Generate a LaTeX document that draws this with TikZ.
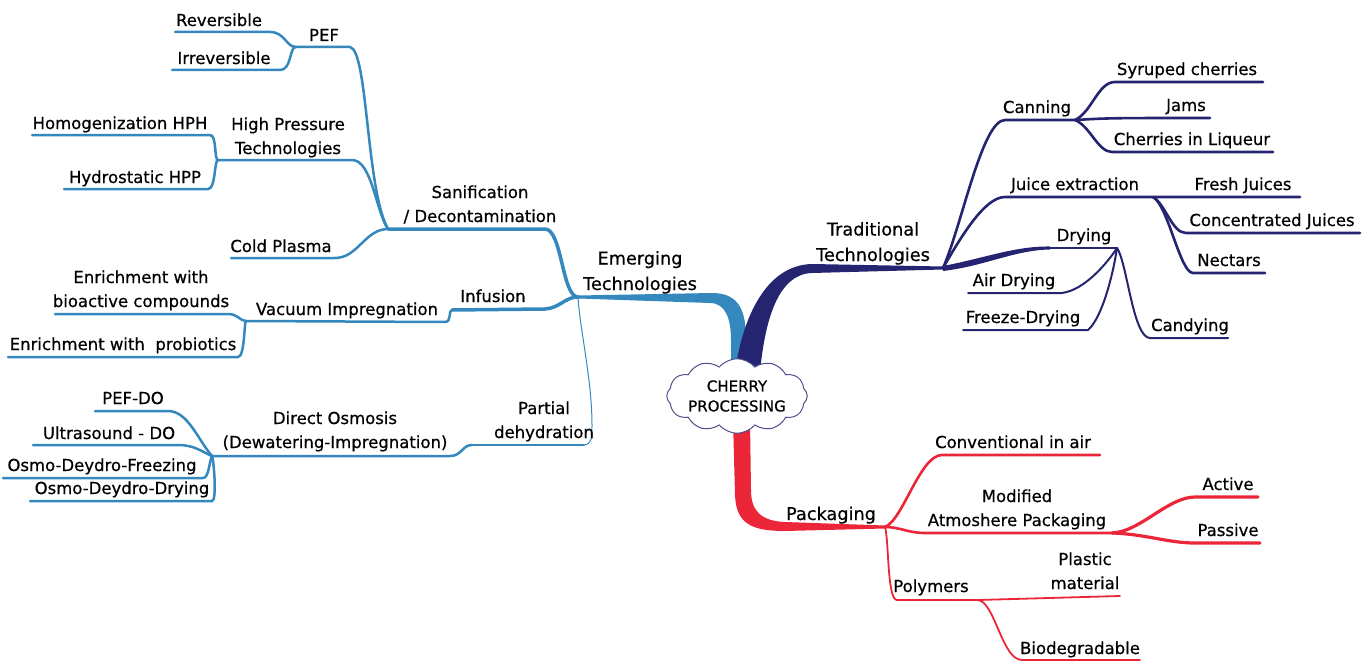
\documentclass[tikz,border=0pt]{standalone}
\usepackage{fontspec}
\setmainfont{DejaVu Sans}[FakeBold=0.6]
\usetikzlibrary{shapes.symbols}
\definecolor{emblue}{RGB}{52,136,189}
\definecolor{trnavy}{RGB}{36,36,112}
\definecolor{pkred}{RGB}{234,38,56}
\newcommand{\lblfont}{\fontsize{16.5}{24}\selectfont}
\newcommand{\topfont}{\fontsize{17.7}{25.5}\selectfont}
\newcommand{\twoline}[2]{\begin{tabular}[b]{@{}c@{}}#1\\#2\end{tabular}}
\begin{document}
\begin{tikzpicture}[x=1pt,y=-1pt,
  lbl/.style={font=\lblfont, inner sep=0pt, anchor=base},
  toplbl/.style={font=\topfont, inner sep=0pt, anchor=base},
  bl/.style={draw=emblue, line width=2.5pt, line cap=round},
  nv/.style={draw=trnavy, line width=2.6pt, line cap=round},
  rd/.style={draw=pkred, line width=2.6pt, line cap=round}]
\useasboundingbox (0,0) rectangle (1369,661);

% ---------- junctions ----------
\coordinate (emj) at (578,297);
\coordinate (san) at (388,229);
\coordinate (pefj) at (296,47);
\coordinate (hpj) at (218,160);
\coordinate (infj) at (452,310);
\coordinate (vij) at (246,321);
\coordinate (pdj) at (472,445);
\coordinate (doj) at (212,456);
\coordinate (tj) at (943,268);
\coordinate (canj) at (1075,120);
\coordinate (jj) at (1153,197);
\coordinate (dj) at (1117,248);
\coordinate (pj) at (885,527);
\coordinate (mj) at (1112,533);
\coordinate (polj) at (978,600);

% ---------- main branches (tapered) ----------
\fill[emblue] (emj) -- (578,295.5) -- (712,293) .. controls (740,293) and (746,312) .. (746,340)
  -- (746,372) -- (731,372) -- (731,340) .. controls (731,318) and (725,303) .. (710,303) -- (578,298.5) -- cycle;
\fill[trnavy] (735,372) .. controls (742,320) and (765,265) .. (812,264) -- (943,266.5)
  -- (943,269.5) -- (812,273) .. controls (778,274) and (765,320) .. (760,372) -- cycle;
\fill[pkred] (733,420) -- (735,495) .. controls (736,524) and (752,531) .. (785,531) -- (885,528.5)
  -- (885,525.5) -- (785,522) .. controls (760,521) and (751,510) .. (751,490) -- (750,420) -- cycle;

% ---------- emerging technologies ----------
\draw[bl, line width=3.5pt] (san) -- (545,229) .. controls (562,229) and (562,297) .. (emj);
\draw[bl] (pefj) -- (350,47) .. controls (368,50) and (366,190) .. (san);
\draw[bl] (hpj) -- (352,160) .. controls (372,160) and (376,212) .. (san);
\draw[bl] (231,258) -- (335,258) .. controls (358,258) and (365,229) .. (san);
\draw[bl] (175,32) -- (270,32) .. controls (285,32) and (286,47) .. (pefj);
\draw[bl] (172,70) -- (280,70) .. controls (292,70) and (289,47) .. (pefj);
\draw[bl] (32,135) -- (210,135) .. controls (217,135) and (214,160) .. (hpj);
\draw[bl] (64,189) -- (208,189) .. controls (216,189) and (214,160) .. (hpj);

\draw[bl, line width=3.5pt] (infj) -- (545,309) .. controls (560,308) and (565,297) .. (emj);
\draw[bl] (vij) -- (445,322) .. controls (452,322) and (448,310) .. (infj);
\draw[bl] (55,314) -- (228,314) .. controls (238,314) and (240,321) .. (vij);
\draw[bl] (8,357) -- (238,357) .. controls (245,357) and (244,321) .. (vij);

\draw[bl] (pdj) -- (584,445);
\draw[bl, line width=1pt] (584,445) .. controls (592,444) and (592,438) .. (592,425)
  .. controls (592,380) and (580,330) .. (emj);
\draw[bl] (pdj) .. controls (462,445) and (462,456) .. (450,456) -- (doj);
\draw[bl] (95,411) -- (168,411) .. controls (188,411) and (198,440) .. (doj);
\draw[bl] (33,445) -- (178,445) .. controls (195,445) and (202,452) .. (doj);
\draw[bl] (3,478) -- (203,478) .. controls (209,478) and (209,462) .. (doj);
\draw[bl] (30,501) -- (212,501) .. controls (217,501) and (214,462) .. (doj);

% ---------- traditional technologies ----------
\draw[nv] (tj) .. controls (962,225) and (982,120) .. (1005,120) -- (canj);
\draw[nv] (canj) .. controls (1092,112) and (1098,82) .. (1115,82) -- (1263,82);
\draw[nv] (canj) .. controls (1110,118) .. (1210,118);
\draw[nv] (canj) .. controls (1090,126) and (1098,152) .. (1112,152) -- (1273,152);
\draw[nv] (tj) .. controls (962,235) and (985,197) .. (1005,197) -- (jj) -- (1300,197);
\draw[nv] (jj) .. controls (1166,205) and (1172,233) .. (1186,233) -- (1360,233);
\draw[nv] (jj) .. controls (1168,205) and (1180,273) .. (1193,273) -- (1265,273);
\fill[trnavy] (tj) -- (943,266) .. controls (985,258) and (1015,246) .. (1050,246.5)
  -- (1050,249.5) .. controls (1015,250) and (985,266) .. (943,271) -- cycle;
\draw[nv] (1050,248) -- (dj);
\draw[nv, line width=2pt] (968,293) -- (1062,293) .. controls (1085,290) and (1108,262) .. (dj);
\draw[nv, line width=2pt] (963,330) -- (1088,330) .. controls (1102,318) and (1113,275) .. (dj);
\draw[nv, line width=2pt] (dj) .. controls (1127,262) and (1133,338) .. (1150,338) -- (1228,338);

% ---------- packaging ----------
\draw[rd] (pj) .. controls (903,520) and (920,455) .. (942,455) -- (1100,455);
\draw[rd] (pj) .. controls (900,527) and (908,533) .. (925,533) -- (mj);
\draw[rd, line width=3.2pt] (mj) .. controls (1140,532) and (1168,497) .. (1195,497) -- (1258,497);
\draw[rd, line width=3.2pt] (mj) .. controls (1145,534) and (1168,543) .. (1195,543) -- (1260,543);
\draw[rd, line width=1.8pt] (pj) .. controls (889,540) and (887,600) .. (897,600) -- (polj) -- (1120,596);
\draw[rd, line width=1.8pt] (polj) .. controls (995,602) and (1002,660) .. (1022,660) -- (1140,660);

% ---------- central topic ----------
\node[cloud, cloud puffs=12, cloud puff arc=100, aspect=2.3, draw=trnavy!80, fill=white,
  line width=1pt, minimum width=138pt, minimum height=62pt, inner sep=0pt,
  font=\fontsize{15}{20}\selectfont, align=center] (center) at (737,396) {CHERRY\\PROCESSING};

% ---------- labels ----------
\node[toplbl] (emerging) at (640,290) {\twoline{Emerging}{Technologies}};
\node[toplbl] (trad) at (873,261) {\twoline{Traditional}{Technologies}};
\node[toplbl] (pack) at (831,520) {Packaging};

\node[lbl] (sanif) at (480,222) {\twoline{Sanification}{/ Decontamination}};
\node[lbl] (pef) at (324,41) {PEF};
\node[lbl] (rev) at (219,26) {Reversible};
\node[lbl] (irrev) at (224,64) {Irreversible};
\node[lbl] (hpt) at (288,154) {\twoline{High Pressure}{Technologies}};
\node[lbl] (hph) at (120,129) {Homogenization HPH};
\node[lbl] (hpp) at (135,183) {Hydrostatic HPP};
\node[lbl] (plasma) at (281,252) {Cold Plasma};
\node[lbl] (infusion) at (493,302) {Infusion};
\node[lbl] (vacuum) at (347,315) {Vacuum Impregnation};
\node[lbl] (bioact) at (141,307) {\twoline{Enrichment with}{bioactive compounds}};
\node[lbl] (probio) at (123,350) {Enrichment with\ \ probiotics};
\node[lbl] (partial) at (544,438) {\twoline{Partial}{dehydration}};
\node[lbl] (dosm) at (335,448) {\twoline{Direct Osmosis}{(Dewatering-Impregnation)}};
\node[lbl] (pefdo) at (133,404) {PEF-DO};
\node[lbl] (usdo) at (109,439) {Ultrasound - DO};
\node[lbl] (odf) at (102,471) {Osmo-Deydro-Freezing};
\node[lbl] (odd) at (122,494) {Osmo-Deydro-Drying};

\node[lbl] (canning) at (1037,113) {Canning};
\node[lbl] (syrup) at (1187,75) {Syruped cherries};
\node[lbl] (jams) at (1186,111) {Jams};
\node[lbl] (liqueur) at (1192,145) {Cherries in Liqueur};
\node[lbl] (juice) at (1075,190) {Juice extraction};
\node[lbl] (fresh) at (1243,190) {Fresh Juices};
\node[lbl] (conc) at (1272,226) {Concentrated Juices};
\node[lbl] (nectars) at (1229,266) {Nectars};
\node[lbl] (drying) at (1084,241) {Drying};
\node[lbl] (airdry) at (1014,286) {Air Drying};
\node[lbl] (freeze) at (1023,323) {Freeze-Drying};
\node[lbl] (candy) at (1190,331) {Candying};

\node[lbl] (conv) at (1013,448) {Conventional in air};
\node[lbl] (map) at (1017,526) {\twoline{Modified}{Atmoshere Packaging}};
\node[lbl] (active) at (1228,490) {Active};
\node[lbl] (passive) at (1228,536) {Passive};
\node[lbl] (poly) at (931,592) {Polymers};
\node[lbl] (plastic) at (1085,589) {\twoline{Plastic}{material}};
\node[lbl] (biodeg) at (1080,654) {Biodegradable};
\end{tikzpicture}
\end{document}
